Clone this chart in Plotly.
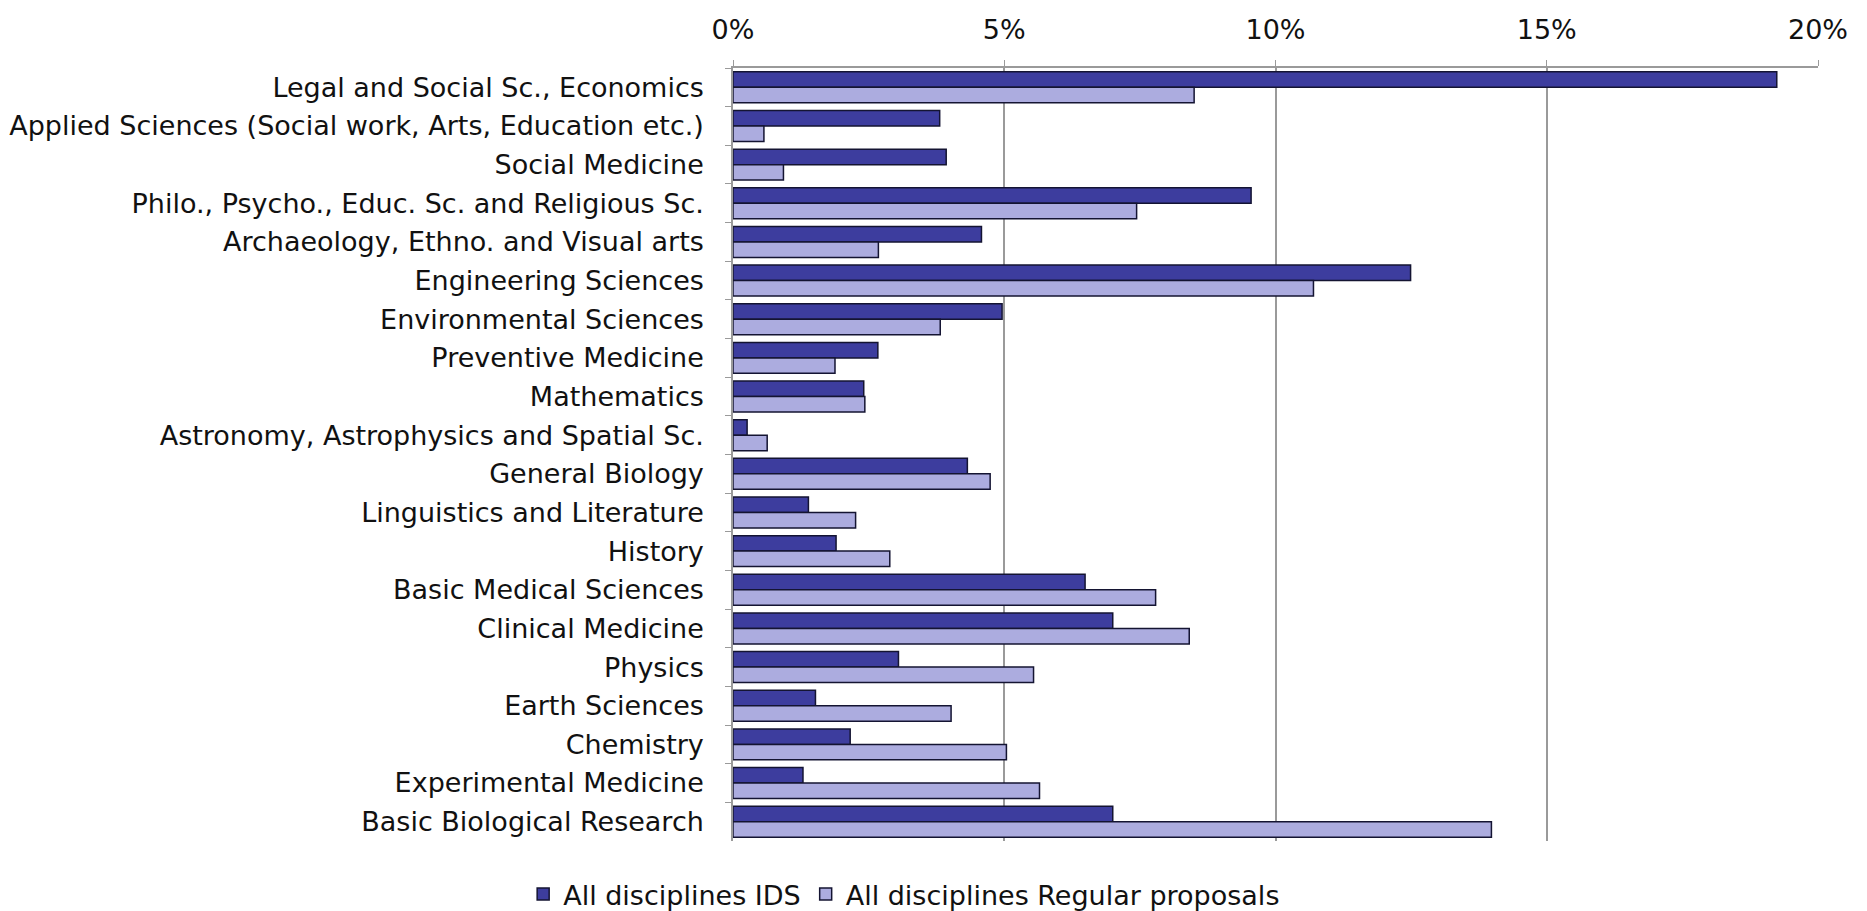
import plotly.graph_objects as go

categories = [
    "Legal and Social Sc., Economics",
    "Applied Sciences (Social work, Arts, Education etc.)",
    "Social Medicine",
    "Philo., Psycho., Educ. Sc. and Religious Sc.",
    "Archaeology, Ethno. and Visual arts",
    "Engineering Sciences",
    "Environmental Sciences",
    "Preventive Medicine",
    "Mathematics",
    "Astronomy, Astrophysics and Spatial Sc.",
    "General Biology",
    "Linguistics and Literature",
    "History",
    "Basic Medical Sciences",
    "Clinical Medicine",
    "Physics",
    "Earth Sciences",
    "Chemistry",
    "Experimental Medicine",
    "Basic Biological Research",
]
ids_values = [19.24, 3.81, 3.93, 9.55, 4.58, 12.49, 4.96, 2.67, 2.41, 0.26,
              4.32, 1.39, 1.90, 6.49, 7.00, 3.05, 1.52, 2.16, 1.29, 7.00]
regular_values = [8.50, 0.57, 0.93, 7.44, 2.68, 10.70, 3.82, 1.88, 2.43, 0.63,
                  4.74, 2.26, 2.89, 7.79, 8.41, 5.54, 4.02, 5.04, 5.65, 13.98]
series_names = ["All disciplines IDS", "All disciplines Regular proposals"]
x_ticks = [0, 5, 10, 15, 20]
x_tick_labels = ["0%", "5%", "10%", "15%", "20%"]

FONT = "DejaVu Sans"
FS = 27

fig = go.Figure()
fig.add_trace(go.Bar(
    y=categories, x=ids_values, orientation="h", name=series_names[0],
    marker=dict(color="#3d3d9e", line=dict(color="#141432", width=1.5)),
))
fig.add_trace(go.Bar(
    y=categories, x=regular_values, orientation="h", name=series_names[1],
    marker=dict(color="#acacdf", line=dict(color="#141432", width=1.5)),
))

fig.update_layout(
    width=1867, height=911,
    barmode="group", bargap=0.2, bargroupgap=0.0,
    plot_bgcolor="white", paper_bgcolor="white",
    margin=dict(l=725, r=57, t=60, b=78),
    font=dict(family=FONT, size=FS, color="#111111"),
    xaxis=dict(
        side="top", range=[0, 20], tickvals=x_ticks, ticktext=x_tick_labels,
        showgrid=True, gridcolor="#9a9a9a", gridwidth=1.5,
        showline=True, linecolor="#9a9a9a", linewidth=1.5,
        ticks="outside", ticklen=6, tickcolor="#9a9a9a",
        ticklabelstandoff=10, automargin=False,
        zeroline=False, tickfont=dict(size=FS, family=FONT),
    ),
    yaxis=dict(
        autorange="reversed", showline=True, linecolor="#9a9a9a", linewidth=1.5,
        ticks="outside", ticklen=6, tickcolor="#9a9a9a", tickson="boundaries",
        showgrid=False, tickfont=dict(size=FS, family=FONT),
        ticklabelstandoff=22, automargin=False,
    ),
    legend=dict(
        orientation="h", xref="container", x=0.48, xanchor="center",
        yref="container", y=0.0, yanchor="bottom",
        font=dict(size=FS, family=FONT), itemwidth=30,
    ),
    showlegend=True,
)

fig.write_html("out.html")
